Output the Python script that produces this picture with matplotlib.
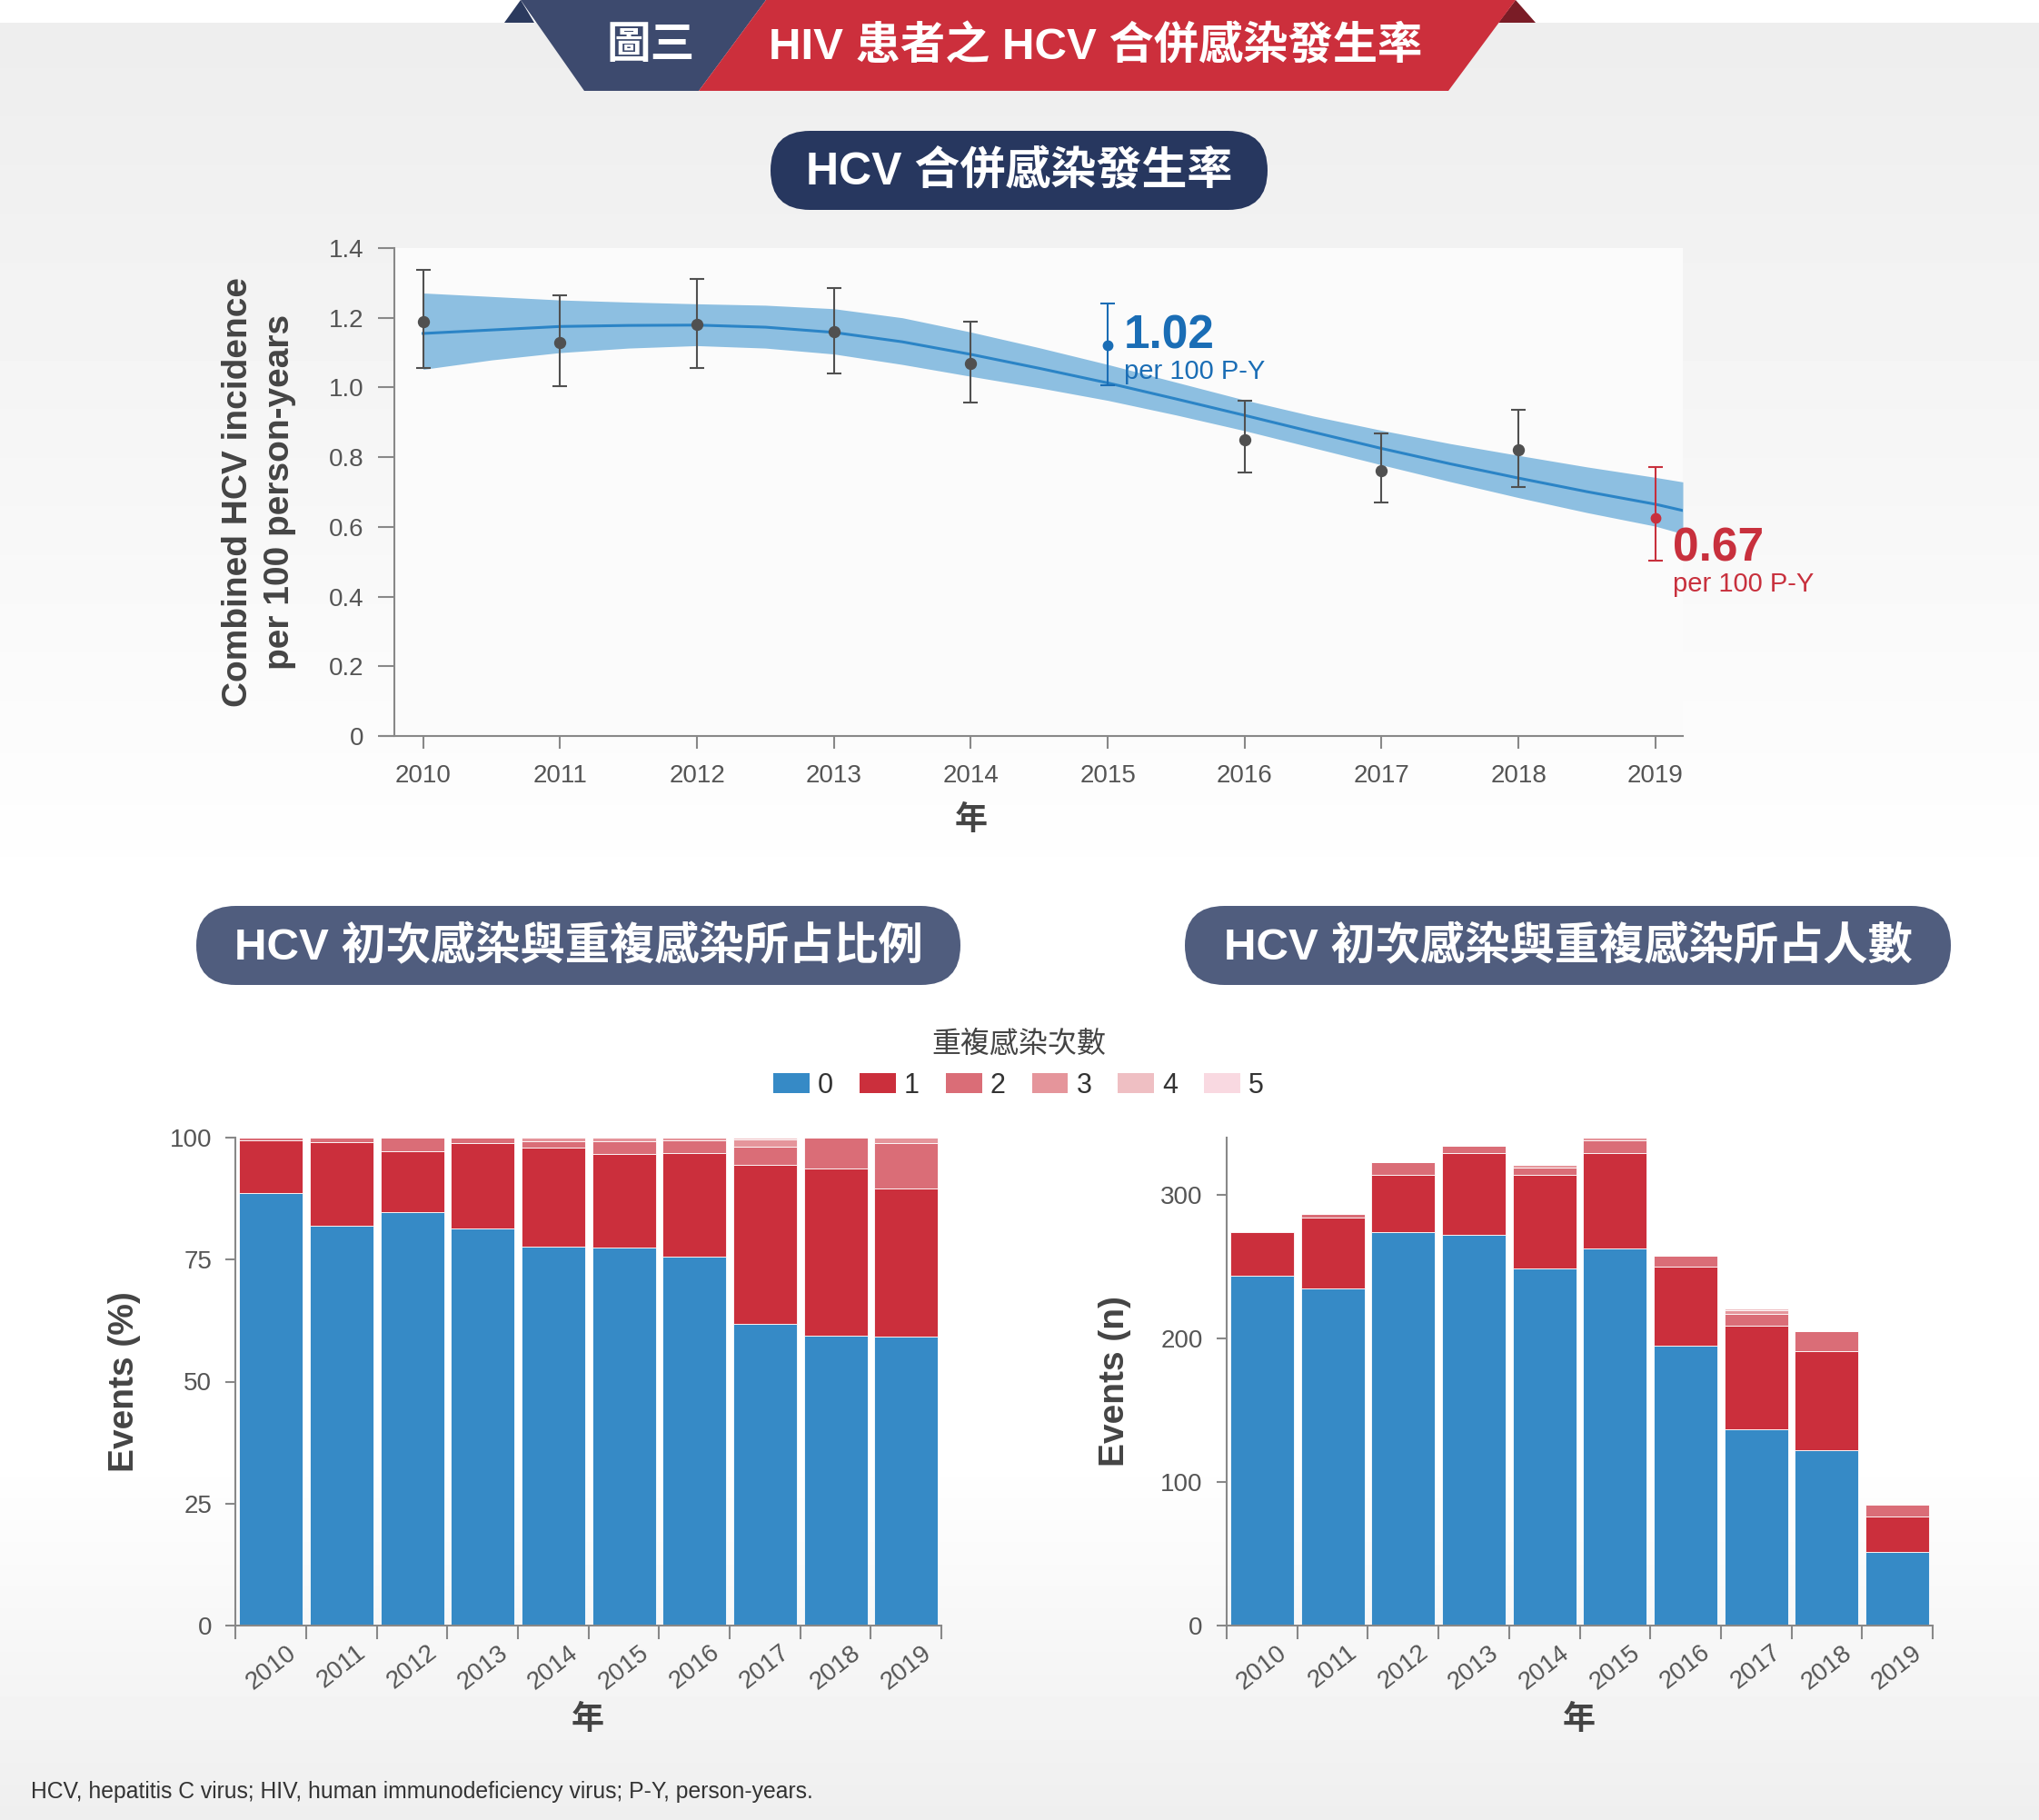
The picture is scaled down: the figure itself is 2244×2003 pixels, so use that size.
import numpy as np
import matplotlib
matplotlib.use('Agg')
import matplotlib.pyplot as plt
from matplotlib.patches import Polygon, FancyBboxPatch, Patch

plt.rcParams['font.family'] = ['Liberation Sans', 'Noto Sans CJK TC']

# ---------------- data ----------------
years = [2010, 2011, 2012, 2013, 2014, 2015, 2016, 2017, 2018, 2019]
year_labels = [str(y) for y in years]

# observed incidence per 100 P-Y with 95% CI
incidence = [1.19, 1.13, 1.18, 1.16, 1.07, 1.12, 0.85, 0.76, 0.82, 0.625]
ci_low = [1.056, 1.005, 1.056, 1.039, 0.958, 1.007, 0.755, 0.669, 0.714, 0.503]
ci_high = [1.337, 1.265, 1.312, 1.285, 1.189, 1.242, 0.963, 0.868, 0.936, 0.771]

# fitted trend and its band
fit_x = [2010, 2010.5, 2011, 2011.5, 2012, 2012.5, 2013, 2013.5, 2014, 2014.5,
         2015, 2015.5, 2016, 2016.5, 2017, 2017.5, 2018, 2018.5, 2019, 2019.2]
fit_y = [1.155, 1.165, 1.175, 1.178, 1.179, 1.173, 1.158, 1.131, 1.095, 1.055,
         1.013, 0.967, 0.920, 0.872, 0.825, 0.781, 0.740, 0.701, 0.665, 0.647]
fit_hi = [1.271, 1.261, 1.251, 1.245, 1.240, 1.236, 1.226, 1.200, 1.159, 1.114,
          1.066, 1.015, 0.964, 0.918, 0.877, 0.839, 0.805, 0.772, 0.742, 0.729]
fit_lo = [1.052, 1.079, 1.100, 1.113, 1.120, 1.113, 1.096, 1.066, 1.032, 0.999,
          0.963, 0.921, 0.876, 0.827, 0.778, 0.730, 0.684, 0.641, 0.602, 0.580]

inc_yticks = [0, 0.2, 0.4, 0.6, 0.8, 1.0, 1.2, 1.4]
inc_yticklabels = ['0', '0.2', '0.4', '0.6', '0.8', '1.0', '1.2', '1.4']

# share of events by number of re-infections (%)
pct0 = [88.7, 81.9, 84.8, 81.4, 77.6, 77.4, 75.6, 61.9, 59.4, 59.2]
pct1 = [10.8, 17.1, 12.4, 17.5, 20.3, 19.3, 21.3, 32.6, 34.2, 30.3]
pct2 = [0.5, 1.0, 2.8, 1.1, 1.4, 2.6, 2.6, 3.7, 6.4, 9.4]
pct3 = [0, 0, 0, 0, 0.7, 0.7, 0.5, 1.5, 0, 1.1]
pct4 = [0, 0, 0, 0, 0, 0, 0, 0.3, 0, 0]
pct5 = [0, 0, 0, 0, 0, 0, 0, 0, 0, 0]

# number of events by number of re-infections
n0 = [244, 235, 274, 272, 249, 263, 195, 137, 122, 51]
n1 = [30, 49, 40, 57, 65, 66, 55, 72, 69, 25]
n2 = [1, 3, 9, 5, 5, 9, 8, 8, 14, 8]
n3 = [0, 0, 0, 0, 2, 2, 0, 3, 0, 1]
n4 = [0, 0, 0, 0, 0, 0, 0, 1, 0, 0]
n5 = [0, 0, 0, 0, 0, 0, 0, 0, 0, 0]

reinf_labels = ['0', '1', '2', '3', '4', '5']
reinf_colors = ['#368ac6', '#cb2f3c', '#da6d77', '#e5959b', '#efbfc3', '#f9d9e1']

W, H = 2244, 2003
fig = plt.figure(figsize=(W / 100, H / 100), dpi=100)

# ---------------- background / banners ----------------
bg = fig.add_axes([0, 0, 1, 1], zorder=-10)
bg.set_xlim(0, W)
bg.set_ylim(H, 0)
bg.axis('off')
shade = np.interp(np.arange(H), [0, 24, 25, 780, 1000, 1600, 2003],
                  [1, 1, 0.93, 0.985, 1.0, 1.0, 0.935])
bg.imshow(shade[:, None], cmap='gray', vmin=0, vmax=1,
          extent=(0, W, H, 0), aspect='auto')

bg.add_patch(Polygon([(555, 25), (573, 0), (588, 25)], closed=True, fc='#2b3a5e', ec='none'))
bg.add_patch(Polygon([(1649, 25), (1668, 0), (1690, 25)], closed=True, fc='#7a1c26', ec='none'))
bg.add_patch(Polygon([(573, 0), (843, 0), (769, 100), (643, 100)], closed=True, fc='#3d4a6e', ec='none'))
bg.add_patch(Polygon([(843, 0), (1668, 0), (1594, 100), (769, 100)], closed=True, fc='#cc2f3c', ec='none'))
bg.text(716, 52, '圖三', color='white', fontsize=35, fontweight='bold', ha='center', va='center')
bg.text(1206, 52, 'HIV 患者之 HCV 合併感染發生率', color='white', fontsize=35.5,
        fontweight='bold', ha='center', va='center')


def pill(x0, x1, y0, y1, color, text, size):
    h = y1 - y0
    bg.add_patch(FancyBboxPatch((x0, y0), x1 - x0, h,
                                boxstyle=f'round,pad=0,rounding_size={h / 2}',
                                fc=color, ec='none'))
    bg.text((x0 + x1) / 2, (y0 + y1) / 2 + 2, text, color='white', fontsize=size,
            fontweight='bold', ha='center', va='center')


pill(848, 1395, 144, 231, '#27375f', 'HCV 合併感染發生率', 36)
pill(216, 1057, 997, 1084, '#505d7e', 'HCV 初次感染與重複感染所占比例', 35.5)
pill(1304, 2147, 997, 1084, '#505d7e', 'HCV 初次感染與重複感染所占人數', 35.5)

GRAY = '#888888'
TXT = '#555555'


def style_axes(ax):
    for s in ['top', 'right']:
        ax.spines[s].set_visible(False)
    for s in ['left', 'bottom']:
        ax.spines[s].set_color(GRAY)
        ax.spines[s].set_linewidth(1.5)


# ---------------- top: incidence ----------------
ax = fig.add_axes([434 / W, 1 - 810 / H, (1852 - 434) / W, (810 - 273) / H])
ax.set_facecolor('#fbfbfb')
style_axes(ax)
ax.fill_between(fit_x, fit_lo, fit_hi, color='#8dbfe1', lw=0, zorder=1)
ax.plot(fit_x, fit_y, color='#2b84c6', lw=2.2, zorder=2)

pt_colors = ['#505050'] * 10
pt_colors[5] = '#1a6db5'
pt_colors[9] = '#c8303d'
for i, yr in enumerate(years):
    ms = 8.6 if pt_colors[i] == '#505050' else 7.5
    ax.errorbar(yr, incidence[i],
                yerr=[[incidence[i] - ci_low[i]], [ci_high[i] - incidence[i]]],
                fmt='o', color=pt_colors[i], ms=ms, elinewidth=1.5,
                capsize=6, capthick=1.5, zorder=3)

ax.text(2015.12, 1.148, '1.02', color='#1a6db5', fontsize=37, fontweight='bold',
        ha='left', va='center')
ax.text(2015.12, 1.045, 'per 100 P-Y', color='#1a6db5', fontsize=21,
        ha='left', va='center')
ax.text(2019.13, 0.537, '0.67', color='#c8303d', fontsize=37, fontweight='bold',
        ha='left', va='center', clip_on=False)
ax.text(2019.13, 0.435, 'per 100 P-Y', color='#c8303d', fontsize=21,
        ha='left', va='center', clip_on=False)

ax.set_xlim(2009.79, 2019.2)
ax.set_ylim(0, 1.4)
ax.spines['bottom'].set_bounds(2009.69, 2019.2)
ax.set_xticks(years)
ax.set_xticklabels(year_labels)
ax.set_yticks(inc_yticks)
ax.set_yticklabels(inc_yticklabels)
ax.tick_params(axis='x', length=10, width=1.5, color=GRAY, labelsize=20,
               labelcolor=TXT, pad=12)
ax.tick_params(axis='y', length=13, width=1.5, color=GRAY, labelsize=20,
               labelcolor=TXT, pad=11)
ax.set_ylabel('Combined HCV incidence\nper 100 person-years', fontsize=28,
              fontweight='bold', color='#444444', va='center', linespacing=1.35)
ax.yaxis.set_label_coords(-0.105, 0.5)
ax.set_xlabel('年', fontsize=26, fontweight='bold', color='#444444', va='center')
ax.xaxis.set_label_coords(0.4478, -0.175)


# ---------------- bottom: stacked bars ----------------
def stacked(ax, series, ymax, yticks, ylabel):
    style_axes(ax)
    ax.set_facecolor('none')
    x = np.arange(len(years))
    bottom = np.zeros(len(years))
    for vals, col in zip(series, reinf_colors):
        vals = np.array(vals, dtype=float)
        ax.bar(x, vals, bottom=bottom, width=0.9, color=col,
               edgecolor='white', linewidth=0.6)
        bottom += vals
    ax.set_xlim(-0.5, len(years) - 0.5)
    ax.set_ylim(0, ymax)
    ax.set_xticks(x)
    ax.set_xticklabels(year_labels, rotation=38, ha='center')
    ax.set_xticks(np.arange(len(years) + 1) - 0.5, minor=True)
    ax.tick_params(axis='x', which='major', length=0, labelsize=20,
                   labelcolor=TXT, pad=12)
    ax.tick_params(axis='x', which='minor', length=11, width=1.5, color=GRAY)
    ax.set_yticks(yticks)
    ax.tick_params(axis='y', length=8, width=1.5, color=GRAY, labelsize=20,
                   labelcolor=TXT, pad=11)
    ax.set_ylabel(ylabel, fontsize=28, fontweight='bold', color='#444444', va='center')
    ax.yaxis.set_label_coords(-0.158, 0.5)
    ax.set_xlabel('年', fontsize=26, fontweight='bold', color='#444444', va='center')
    ax.xaxis.set_label_coords(0.499, -0.194)


ax_pct = fig.add_axes([259.4 / W, 1 - 1789 / H, 776.7 / W, 537 / H])
stacked(ax_pct, [pct0, pct1, pct2, pct3, pct4, pct5], 100,
        [0, 25, 50, 75, 100], 'Events (%)')

ax_n = fig.add_axes([1350 / W, 1 - 1789 / H, 777 / W, 537 / H])
stacked(ax_n, [n0, n1, n2, n3, n4, n5], 340, [0, 100, 200, 300], 'Events (n)')

handles = [Patch(facecolor=c, edgecolor='none') for c in reinf_colors]
leg = fig.legend(handles, reinf_labels, title='重複感染次數', ncol=6,
                 loc='upper center', bbox_to_anchor=(1121 / W, 1 - 1122 / H),
                 frameon=False, fontsize=22, title_fontsize=23,
                 handlelength=1.3, handleheight=0.75, handletextpad=0.3,
                 columnspacing=0.95, borderaxespad=0, labelcolor='#333333')
leg.get_title().set_color('#444444')

fig.text(34 / W, 1 - 1972 / H,
         'HCV, hepatitis C virus; HIV, human immunodeficiency virus; P-Y, person-years.',
         fontsize=17.8, color='#333333', ha='left', va='center')

fig.savefig('out.png', dpi=100)
